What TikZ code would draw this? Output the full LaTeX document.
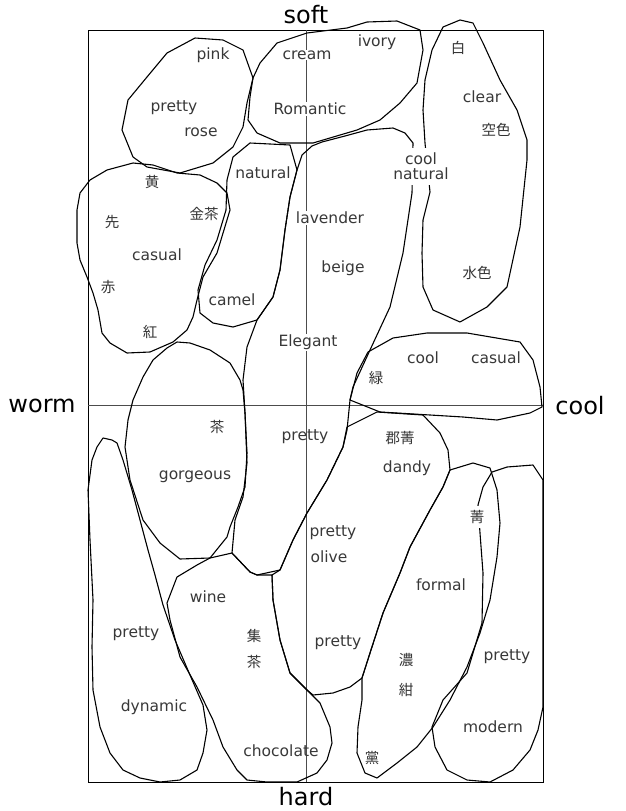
\documentclass[tikz,border=0pt]{standalone}
\usepackage{fontspec}
\setmainfont{DejaVu Sans}
\newfontfamily\cjk{Noto Sans CJK JP}
\begin{document}
\begin{tikzpicture}[x=1pt,y=-1pt,
  region/.style={draw=black,line width=1.1pt,line join=round},
  lbl/.style={font=\fontsize{15.5}{17}\selectfont,text=black!78,inner sep=1pt},
  lblw/.style={lbl,fill=white},
  cj/.style={font=\cjk\fontsize{14.5}{16}\selectfont,text=black!80,inner sep=1pt},
  ttl/.style={font=\fontsize{24}{26}\selectfont,inner sep=0pt},
  axisline/.style={draw=black!70,line width=0.8pt},
  framebox/.style={draw=black,line width=1pt}]
\useasboundingbox (0,0) rectangle (626,811);
% frame and axes
\coordinate (fTL) at (88,30);
\coordinate (fBR) at (543,782);
\coordinate (vTop) at (306,30);
\coordinate (vBot) at (306,782);
\coordinate (hL) at (88,405);
\coordinate (hR) at (543,405);
\draw[framebox] (fTL) rectangle (fBR);
\draw[axisline] (vTop) -- (vBot);
\draw[axisline] (hL) -- (hR);
% A: pink pretty rose
\draw[region] (195,38) -- (223,40) -- (243,50) -- (253,78) -- (247,103) -- (243,127) -- (233,147) -- (213,163) -- (180,173) -- (147,167) -- (133,157) -- (122,130) -- (128,100) -- (147,77) -- (167,53) -- cycle;
% B: cream ivory Romantic
\draw[region] (253,78) -- (260,63) -- (277,43) -- (307,33) -- (347,28) -- (367,22) -- (397,21) -- (420,30) -- (423,50) -- (417,83) -- (400,103) -- (380,120) -- (357,130) -- (313,143) -- (280,143) -- (257,133) -- (248,120) -- (250,97) -- cycle;
% C: white clear sky / water
\draw[region] (443,27) -- (460,20) -- (473,23) -- (483,43) -- (500,80) -- (517,110) -- (527,140) -- (527,160) -- (520,227) -- (507,287) -- (487,307) -- (460,322) -- (433,310) -- (423,287) -- (422,253) -- (423,220) -- (430,192) -- (425,143) -- (423,110) -- (425,80) -- (432,50) -- cycle;
% D: central
\draw[region] (297,170) -- (302,155) -- (312,146) -- (322,142) -- (345,136) -- (367,130) -- (393,128) -- (405,133) -- (413,143) -- (412,193) -- (403,253) -- (390,307) -- (370,350) -- (353,387) -- (350,400) -- (347,430) -- (343,447) -- (327,480) -- (307,513) -- (293,540) -- (280,570) -- (257,575) -- (250,572) -- (232,553) -- (235,520) -- (243,497) -- (247,463) -- (245,413) -- (243,380) -- (247,347) -- (257,320) -- (273,297) -- (280,270) -- (285,230) -- (290,197) -- cycle;
% E: cool casual
\draw[region] (368,352) -- (393,338) -- (427,333) -- (467,333) -- (520,342) -- (533,360) -- (540,387) -- (542,407) -- (530,413) -- (497,420) -- (463,417) -- (430,415) -- (380,412) -- (350,400) -- (357,373) -- cycle;
% F: dandy olive
\draw[region] (347,427) -- (377,412) -- (423,415) -- (440,433) -- (448,450) -- (450,470) -- (443,487) -- (430,510) -- (410,547) -- (400,573) -- (383,613) -- (370,653) -- (362,678) -- (350,687) -- (333,693) -- (313,695) -- (307,690) -- (290,673) -- (280,640) -- (273,600) -- (272,575) -- (280,570) -- (293,540) -- (307,513) -- (327,480) -- (343,447) -- cycle;
% G: formal
\draw[region] (450,470) -- (473,463) -- (490,468) -- (497,490) -- (500,523) -- (497,557) -- (490,600) -- (480,633) -- (467,667) -- (450,700) -- (433,727) -- (417,747) -- (397,763) -- (377,778) -- (365,773) -- (357,753) -- (358,727) -- (362,700) -- (362,678) -- (370,653) -- (383,613) -- (400,573) -- (410,547) -- (430,510) -- (443,487) -- cycle;
% H: pretty modern
\draw[region] (492,472) -- (507,467) -- (533,465) -- (543,480) -- (543,707) -- (538,730) -- (530,750) -- (513,770) -- (490,782) -- (467,780) -- (447,770) -- (435,747) -- (432,727) -- (443,700) -- (467,673) -- (482,623) -- (483,573) -- (480,533) -- (478,505) -- (483,487) -- cycle;
% I: natural camel
\draw[region] (250,143) -- (290,145) -- (297,170) -- (290,197) -- (285,230) -- (280,270) -- (273,297) -- (257,320) -- (233,327) -- (213,323) -- (200,313) -- (198,290) -- (205,265) -- (217,240) -- (226,210) -- (227,180) -- (233,157) -- cycle;
% J: casual (left)
\draw[region] (90,180) -- (107,170) -- (133,163) -- (153,165) -- (177,173) -- (200,175) -- (217,183) -- (227,193) -- (230,210) -- (217,253) -- (203,277) -- (197,300) -- (193,317) -- (187,330) -- (173,342) -- (150,352) -- (127,353) -- (110,343) -- (102,333) -- (98,310) -- (93,293) -- (87,277) -- (80,260) -- (77,243) -- (77,210) -- (80,193) -- cycle;
% K: gorgeous
\draw[region] (177,342) -- (190,343) -- (210,350) -- (230,363) -- (240,380) -- (243,390) -- (245,413) -- (247,453) -- (245,487) -- (238,507) -- (230,527) -- (227,537) -- (210,558) -- (180,559) -- (160,543) -- (143,520) -- (130,480) -- (125,447) -- (128,420) -- (133,400) -- (143,377) -- (153,360) -- (167,348) -- cycle;
% L: pretty dynamic
\draw[region] (103,438) -- (112,440) -- (117,443) -- (123,460) -- (132,490) -- (140,520) -- (148,550) -- (155,575) -- (163,605) -- (175,640) -- (190,675) -- (203,705) -- (207,730) -- (203,753) -- (197,770) -- (180,780) -- (160,782) -- (140,778) -- (123,770) -- (110,753) -- (100,727) -- (93,690) -- (92,647) -- (93,600) -- (90,540) -- (88,490) -- (92,460) -- (97,447) -- cycle;
% M: wine chocolate
\draw[region] (167,603) -- (177,577) -- (197,565) -- (210,558) -- (232,553) -- (250,572) -- (257,575) -- (272,575) -- (273,600) -- (280,640) -- (290,673) -- (307,690) -- (320,703) -- (330,727) -- (332,743) -- (327,760) -- (317,773) -- (297,782) -- (267,782) -- (247,780) -- (237,770) -- (223,747) -- (213,720) -- (197,687) -- (180,657) -- (170,620) -- cycle;
% titles
\node[ttl] (soft) at (306,15) {soft};
\node[ttl] (hard) at (306,797) {hard};
\node[ttl] (worm) at (42,406) {worm};
\node[ttl] (cool) at (580,406) {cool};
% labels
\node[lbl] (pink) at (213,55) {pink};
\node[lblw] (cream) at (307,55) {cream};
\node[lbl] (ivory) at (377,42) {ivory};
\node[cj] (shiro) at (458,48) {白};
\node[lbl] (clear) at (482,97) {clear};
\node[cj] (sorairo) at (496,130) {空色};
\node[lbl] (pretty1) at (174,108) {pretty};
\node[lbl] (rose) at (201,132) {rose};
\node[lblw] (romantic) at (310,109) {Romantic};
\node[lblw,align=center,inner xsep=2pt,inner ysep=5pt] (coolnat) at (421,166) {cool\\[-2pt]natural};
\node[cj] (ki) at (152,182) {黄};
\node[lbl] (natural) at (263,173) {natural};
\node[cj] (saki) at (112,222) {先};
\node[cj] (kincha) at (204,214) {金茶};
\node[lblw] (lavender) at (330,218) {lavender};
\node[lbl] (casual1) at (157,255) {casual};
\node[lbl] (beige) at (343,268) {beige};
\node[cj] (aka) at (108,287) {赤};
\node[lbl] (camel) at (232,300) {camel};
\node[cj] (mizuiro) at (477,273) {水色};
\node[cj] (beni) at (150,332) {紅};
\node[lblw] (elegant) at (308,342) {Elegant};
\node[lbl] (cool2) at (423,358) {cool};
\node[lbl] (casual2) at (496,358) {casual};
\node[cj] (midori) at (376,378) {緑};
\node[cj] (cha1) at (217,427) {茶};
\node[lbl] (pretty2) at (305,437) {pretty};
\node[cj] (gunjo) at (400,438) {郡菁};
\node[lbl] (dandy) at (407,468) {dandy};
\node[lbl] (gorgeous) at (195,477) {gorgeous};
\node[cj,fill=white,inner ysep=4pt] (ao) at (477,517) {菁};
\node[lbl] (pretty3) at (333,533) {pretty};
\node[lbl] (olive) at (329,557) {olive};
\node[lbl] (formal) at (441,585) {formal};
\node[lbl] (wine) at (208,597) {wine};
\node[lbl] (pretty4) at (136,634) {pretty};
\node[cj] (shu) at (254,636) {集};
\node[cj] (cha2) at (254,662) {茶};
\node[lbl] (pretty5) at (338,643) {pretty};
\node[cj] (no) at (406,660) {濃};
\node[cj] (kon) at (406,690) {紺};
\node[lbl] (pretty6) at (507,657) {pretty};
\node[lbl] (dynamic) at (154,707) {dynamic};
\node[lbl] (modern) at (493,727) {modern};
\node[lbl] (chocolate) at (281,751) {chocolate};
\node[cj] (to) at (372,758) {黨};
\end{tikzpicture}
\end{document}
